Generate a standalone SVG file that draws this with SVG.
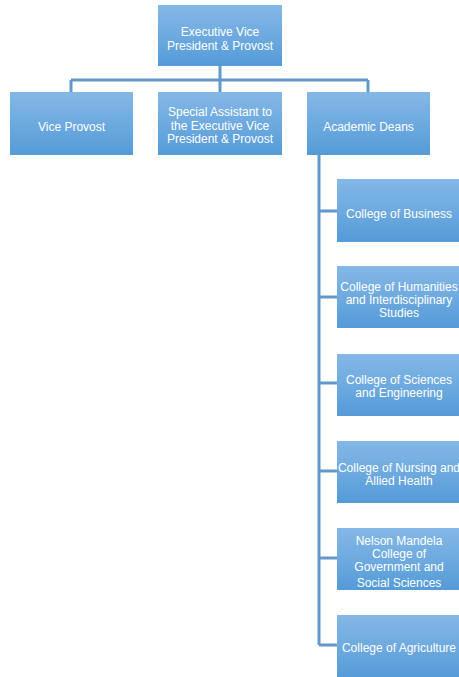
<svg xmlns="http://www.w3.org/2000/svg" width="459" height="677" viewBox="0 0 459 677">
<defs>
<linearGradient id="g" x1="0" y1="0" x2="0" y2="1">
<stop offset="0" stop-color="#84b8e6"/>
<stop offset="0.5" stop-color="#6eaae0"/>
<stop offset="1" stop-color="#549bd7"/>
</linearGradient>
<style>
.box{fill:url(#g);}
.t{font-family:"Liberation Sans",Arial,sans-serif;font-size:12px;fill:#ffffff;text-anchor:middle;}
.c{stroke:#6299cc;stroke-width:3;fill:none;}
</style>
</defs>
<g id="connectors">
<path class="c" d="M220,66 V80 M71,80 H368 M71,80 V92 M220,80 V92 M368,80 V92"/>
<path class="c" d="M319,155 V645 M319,211 H337 M319,297 H337 M319,383 H337 M319,471 H337 M319,558 H337 M319,645 H337"/>
</g>
<g id="n_evp"><rect class="box" x="158" y="5" width="124" height="61"/><text class="t" x="220" y="36">Executive Vice</text><text class="t" x="220" y="50">President &amp; Provost</text></g>
<g id="n_vp"><rect class="box" x="10" y="92" width="123" height="63"/><text class="t" x="71.5" y="131">Vice Provost</text></g>
<g id="n_sa"><rect class="box" x="158" y="92" width="124" height="63"/><text class="t" x="220" y="116">Special Assistant to</text><text class="t" x="220" y="130">the Executive Vice</text><text class="t" x="220" y="143">President &amp; Provost</text></g>
<g id="n_ad"><rect class="box" x="307" y="92" width="123" height="63"/><text class="t" x="368.5" y="131">Academic Deans</text></g>
<g id="n_bus"><rect class="box" x="337" y="179" width="122" height="63"/><text class="t" x="399" y="218">College of Business</text></g>
<g id="n_hum"><rect class="box" x="337" y="266" width="122" height="62"/><text class="t" x="399" y="291">College of Humanities</text><text class="t" x="399" y="304">and Interdisciplinary</text><text class="t" x="399" y="317">Studies</text></g>
<g id="n_sci"><rect class="box" x="337" y="354" width="122" height="62"/><text class="t" x="399" y="384">College of Sciences</text><text class="t" x="399" y="397">and Engineering</text></g>
<g id="n_nur"><rect class="box" x="337" y="441" width="122" height="62"/><text class="t" x="399" y="472">College of Nursing and</text><text class="t" x="399" y="485">Allied Health</text></g>
<g id="n_nm"><rect class="box" x="337" y="528" width="122" height="62"/><text class="t" x="399" y="545">Nelson Mandela</text><text class="t" x="399" y="558">College of</text><text class="t" x="399" y="571">Government and</text><text class="t" x="399" y="587">Social Sciences</text></g>
<g id="n_agr"><rect class="box" x="337" y="615" width="122" height="62"/><text class="t" x="399" y="652">College of Agriculture</text></g>
</svg>
